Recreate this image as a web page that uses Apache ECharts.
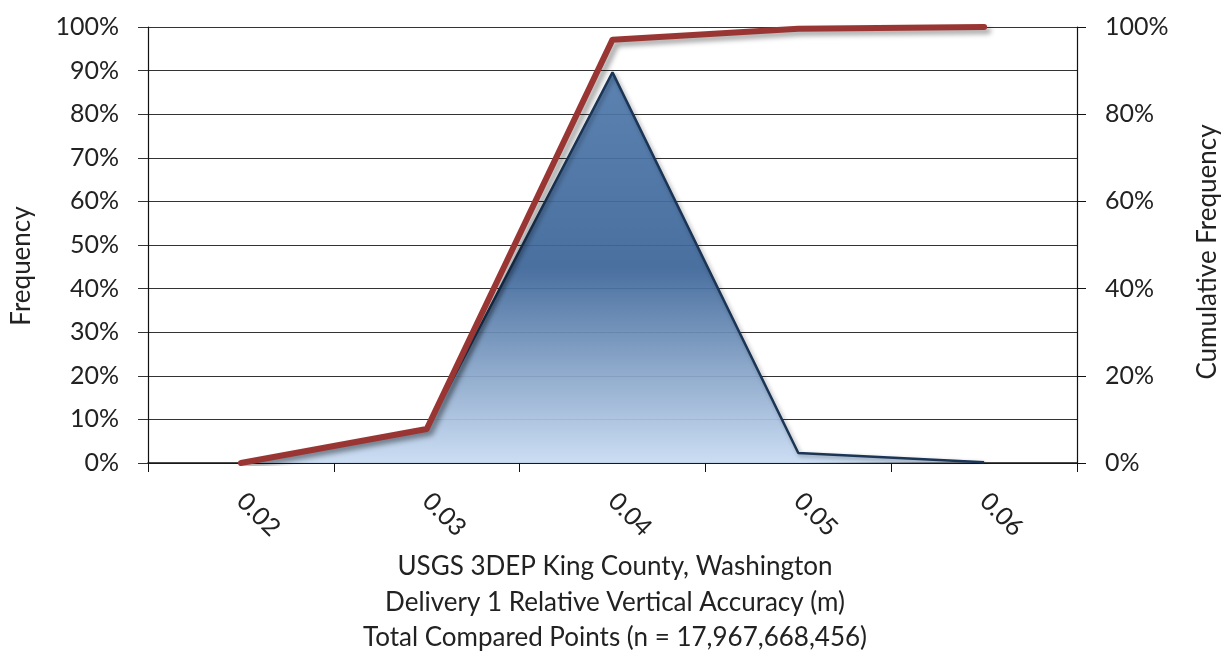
<!DOCTYPE html>
<html>
<head>
<meta charset="utf-8">
<script src="https://cdn.jsdelivr.net/npm/echarts@6/dist/echarts.min.js"></script>
<style>
  html, body { margin: 0; padding: 0; background: #ffffff; }
  #chart { width: 1230px; height: 652px; }
</style>
</head>
<body>
<div id="chart"></div>
<script>
// Relative vertical accuracy bins (m)
const categories = ['0.02', '0.03', '0.04', '0.05', '0.06'];
// Share of compared points per bin (%)
const frequency = [0, 7.8, 89.6, 2.3, 0.2];
// Running total of the shares (%)
const cumulative = [0, 7.8, 97.1, 99.6, 100];

const leftTicks = { min: 0, max: 100, interval: 10 };
const rightTicks = { min: 0, max: 100, interval: 20 };

const leftAxisName = 'Frequency';
const rightAxisName = 'Cumulative Frequency';
const titleLines = [
  'USGS 3DEP King County, Washington',
  'Delivery 1 Relative Vertical Accuracy (m)',
  'Total Compared Points (n = 17,967,668,456)'
];

const FONT = 'Lato, "Open Sans", sans-serif';
const TEXT = '#222222';

const chart = echarts.init(document.getElementById('chart'), null, { renderer: 'canvas' });

chart.setOption({
  animation: false,
  backgroundColor: '#ffffff',
  grid: { left: 148, right: 153, top: 27, bottom: 189, containLabel: false },
  xAxis: {
    type: 'category',
    data: categories,
    boundaryGap: true,
    axisLine: { show: true, lineStyle: { color: '#111111', width: 1.5 } },
    axisTick: { show: true, alignWithLabel: false, length: 9, lineStyle: { color: '#111111', width: 1 } },
    axisLabel: { rotate: -45, margin: 34, fontSize: 25, color: TEXT, fontFamily: FONT },
    splitLine: { show: false }
  },
  yAxis: [
    {
      type: 'value',
      min: leftTicks.min, max: leftTicks.max, interval: leftTicks.interval,
      axisLine: { show: true, lineStyle: { color: '#111111', width: 1.2 } },
      axisTick: { show: true, length: 10, lineStyle: { color: '#333333' } },
      axisLabel: { formatter: '{value}%', fontSize: 25, color: TEXT, fontFamily: FONT, margin: 29 },
      splitLine: { show: true, lineStyle: { color: '#333333', width: 1.2 } }
    },
    {
      type: 'value',
      position: 'right',
      min: rightTicks.min, max: rightTicks.max, interval: rightTicks.interval,
      axisLine: { show: true, lineStyle: { color: '#111111', width: 1.2 } },
      axisTick: { show: true, length: 9, lineStyle: { color: '#111111' } },
      axisLabel: { formatter: '{value}%', fontSize: 25, color: TEXT, fontFamily: FONT, margin: 28 },
      splitLine: { show: false }
    }
  ],
  series: [
    {
      name: leftAxisName,
      type: 'line',
      yAxisIndex: 0,
      data: frequency,
      symbol: 'none',
      lineStyle: {
        color: '#1b3557', width: 2.5,
        shadowColor: 'rgba(0,0,0,0.35)', shadowBlur: 4, shadowOffsetX: 2, shadowOffsetY: 2
      },
      areaStyle: {
        origin: 'start',
        opacity: 0.93,
        color: new echarts.graphic.LinearGradient(0, 0, 0, 1, [
          { offset: 0, color: '#5079ab' },
          { offset: 0.5, color: '#3c6598' },
          { offset: 1, color: '#c8dbf2' }
        ])
      },
      z: 2
    },
    {
      name: rightAxisName,
      type: 'line',
      yAxisIndex: 1,
      data: cumulative,
      symbol: 'none',
      lineStyle: {
        color: '#993633', width: 6, join: 'round', cap: 'round',
        shadowColor: 'rgba(0,0,0,0.35)', shadowBlur: 5, shadowOffsetX: 4, shadowOffsetY: 4
      },
      z: 3
    }
  ],
  graphic: [
    {
      type: 'text',
      x: 22, y: 266,
      rotation: Math.PI / 2,
      style: { text: leftAxisName, fontSize: 26, fill: TEXT, fontFamily: FONT, align: 'center', verticalAlign: 'middle' }
    },
    {
      type: 'text',
      x: 1208, y: 252,
      rotation: Math.PI / 2,
      style: { text: rightAxisName, fontSize: 26, fill: TEXT, fontFamily: FONT, align: 'center', verticalAlign: 'middle' }
    }
  ].concat(titleLines.map((line, i) => ({
    type: 'text',
    x: 615, y: 567 + i * 35.5,
    style: { text: line, fontSize: 26, fill: TEXT, fontFamily: FONT, align: 'center', verticalAlign: 'middle' }
  })))
});
</script>
</body>
</html>
